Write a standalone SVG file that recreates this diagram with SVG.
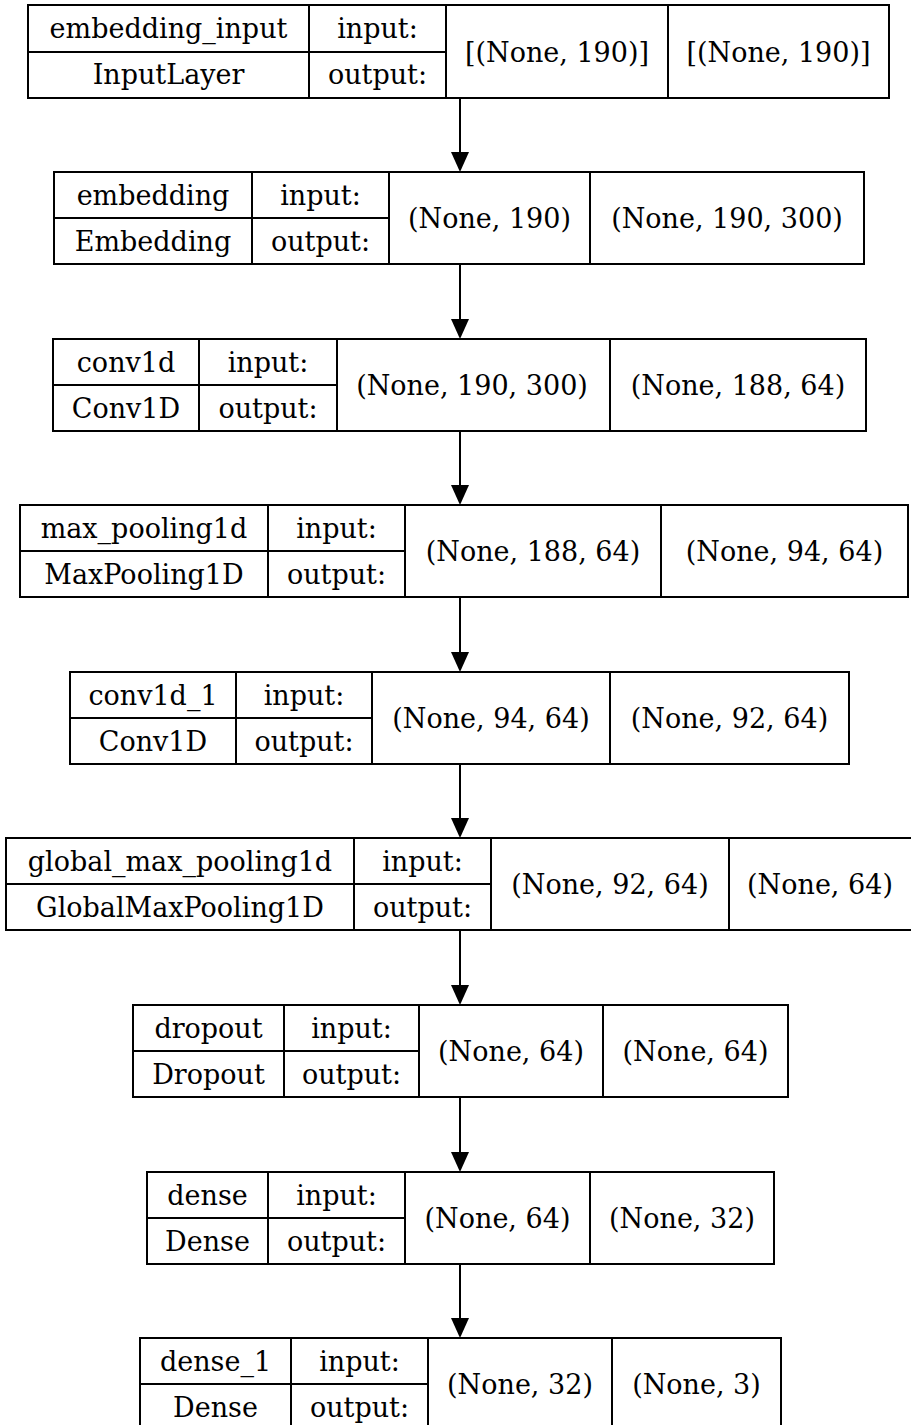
<svg xmlns="http://www.w3.org/2000/svg" width="911" height="1425" viewBox="0 0 911 1425">
<style>
.b{fill:none;stroke:#000;stroke-width:2}
.l{stroke:#000;stroke-width:2}
text{font-family:"DejaVu Serif",serif;font-size:27px;fill:#000;text-anchor:middle}
.e{stroke:#000;stroke-width:2;fill:none}
</style>
<rect width="911" height="1425" fill="#fff"/>
<g id="connectors">
<path class="e" d="M460,98 V153"/><path d="M451,152 L469,152 L460,172 z"/>
<path class="e" d="M460,264 V320"/><path d="M451,319 L469,319 L460,339 z"/>
<path class="e" d="M460,431 V486"/><path d="M451,485 L469,485 L460,505 z"/>
<path class="e" d="M460,597 V653"/><path d="M451,652 L469,652 L460,672 z"/>
<path class="e" d="M460,764 V819"/><path d="M451,818 L469,818 L460,838 z"/>
<path class="e" d="M460,930 V986"/><path d="M451,985 L469,985 L460,1005 z"/>
<path class="e" d="M460,1097 V1153"/><path d="M451,1152 L469,1152 L460,1172 z"/>
<path class="e" d="M460,1264 V1319"/><path d="M451,1318 L469,1318 L460,1338 z"/>
</g>
<g id="embedding_input">
<rect class="b" x="28" y="5" width="861" height="93"/>
<path class="l" d="M309,5 V98 M446,5 V98 M668,5 V98 M28,52 H446"/>
<text x="168.5" y="38">embedding_input</text><text x="168.5" y="84">InputLayer</text>
<text x="377.5" y="38">input:</text><text x="377.5" y="84">output:</text>
<text x="557" y="62">[(None, 190)]</text><text x="778.5" y="62">[(None, 190)]</text>
</g>
<g id="embedding">
<rect class="b" x="54" y="172" width="810" height="92"/>
<path class="l" d="M252,172 V264 M389,172 V264 M590,172 V264 M54,218 H389"/>
<text x="153" y="205">embedding</text><text x="153" y="251">Embedding</text>
<text x="320.5" y="205">input:</text><text x="320.5" y="251">output:</text>
<text x="489.5" y="228">(None, 190)</text><text x="727" y="228">(None, 190, 300)</text>
</g>
<g id="conv1d">
<rect class="b" x="53" y="339" width="813" height="92"/>
<path class="l" d="M199,339 V431 M337,339 V431 M610,339 V431 M53,385 H337"/>
<text x="126" y="372">conv1d</text><text x="126" y="418">Conv1D</text>
<text x="268" y="372">input:</text><text x="268" y="418">output:</text>
<text x="472" y="395">(None, 190, 300)</text><text x="738" y="395">(None, 188, 64)</text>
</g>
<g id="max_pooling1d">
<rect class="b" x="20" y="505" width="888" height="92"/>
<path class="l" d="M268,505 V597 M405,505 V597 M661,505 V597 M20,551 H405"/>
<text x="144" y="538">max_pooling1d</text><text x="144" y="584">MaxPooling1D</text>
<text x="336.5" y="538">input:</text><text x="336.5" y="584">output:</text>
<text x="533" y="561">(None, 188, 64)</text><text x="784.5" y="561">(None, 94, 64)</text>
</g>
<g id="conv1d_1">
<rect class="b" x="70" y="672" width="779" height="92"/>
<path class="l" d="M236,672 V764 M372,672 V764 M610,672 V764 M70,718 H372"/>
<text x="153" y="705">conv1d_1</text><text x="153" y="751">Conv1D</text>
<text x="304" y="705">input:</text><text x="304" y="751">output:</text>
<text x="491" y="728">(None, 94, 64)</text><text x="729.5" y="728">(None, 92, 64)</text>
</g>
<g id="global_max_pooling1d">
<rect class="b" x="6" y="838" width="907" height="92"/>
<path class="l" d="M354,838 V930 M491,838 V930 M729,838 V930 M6,884 H491"/>
<text x="180" y="871">global_max_pooling1d</text><text x="180" y="917">GlobalMaxPooling1D</text>
<text x="422.5" y="871">input:</text><text x="422.5" y="917">output:</text>
<text x="610" y="894">(None, 92, 64)</text><text x="820" y="894">(None, 64)</text>
</g>
<g id="dropout">
<rect class="b" x="133" y="1005" width="655" height="92"/>
<path class="l" d="M284,1005 V1097 M419,1005 V1097 M603,1005 V1097 M133,1051 H419"/>
<text x="208.5" y="1038">dropout</text><text x="208.5" y="1084">Dropout</text>
<text x="351.5" y="1038">input:</text><text x="351.5" y="1084">output:</text>
<text x="511" y="1061">(None, 64)</text><text x="695.5" y="1061">(None, 64)</text>
</g>
<g id="dense">
<rect class="b" x="147" y="1172" width="627" height="92"/>
<path class="l" d="M268,1172 V1264 M405,1172 V1264 M590,1172 V1264 M147,1218 H405"/>
<text x="207.5" y="1205">dense</text><text x="207.5" y="1251">Dense</text>
<text x="336.5" y="1205">input:</text><text x="336.5" y="1251">output:</text>
<text x="497.5" y="1228">(None, 64)</text><text x="682" y="1228">(None, 32)</text>
</g>
<g id="dense_1">
<rect class="b" x="140" y="1338" width="641" height="92"/>
<path class="l" d="M291,1338 V1430 M428,1338 V1430 M612,1338 V1430 M140,1384 H428"/>
<text x="215.5" y="1371">dense_1</text><text x="215.5" y="1417">Dense</text>
<text x="359.5" y="1371">input:</text><text x="359.5" y="1417">output:</text>
<text x="520" y="1394">(None, 32)</text><text x="696.5" y="1394">(None, 3)</text>
</g>
</svg>
